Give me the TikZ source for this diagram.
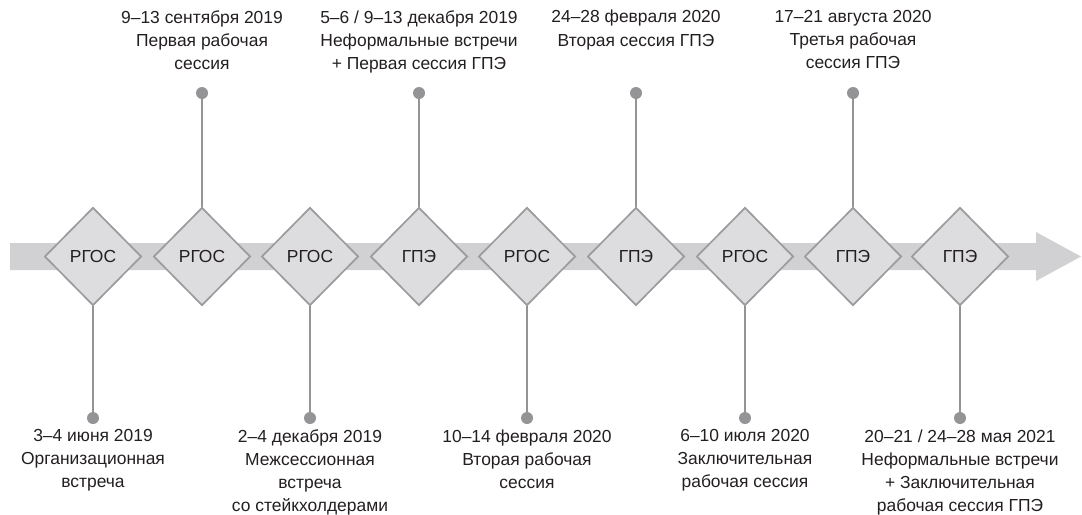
\documentclass[tikz,border=0pt]{standalone}
\usepackage{fontspec}
\setmainfont{Liberation Sans}
\usepackage{xcolor}
\definecolor{bandgrey}{RGB}{209, 209, 211}
\definecolor{diamondfill}{RGB}{221, 221, 223}
\definecolor{diamondedge}{RGB}{155, 155, 157}
\definecolor{stemgrey}{RGB}{148, 148, 150}
\definecolor{textdark}{RGB}{35, 31, 32}
\usepackage{tikz}
\usetikzlibrary{positioning, shapes.geometric}

\begin{document}
\begin{tikzpicture}[x=0.025cm, y=-0.025cm,
    every node/.style={font=\fontsize{12.4}{16.5}\selectfont, text=textdark},
    milestone/.style={diamond, draw=diamondedge, fill=diamondfill, line width=1.2pt, inner sep=0pt, minimum width=2.42cm, minimum height=2.45cm},
    pindot/.style={circle, fill=stemgrey, inner sep=0pt, minimum size=0.3cm},
    stem/.style={stemgrey, line width=1.3pt},
    eventlabel/.style={align=center, inner sep=0pt}]
    \useasboundingbox (0,0) rectangle (1082,514);

    \fill[bandgrey] (10,243) -- (1036,243) -- (1036,232) -- (1081,256.5) -- (1036,281) -- (1036,270) -- (10,270) -- cycle;

    \foreach \x/\kind [count=\i] in {93/РГОС, 202/РГОС, 310/РГОС, 419/ГПЭ, 527/РГОС, 636/ГПЭ, 745/РГОС, 853/ГПЭ, 960/ГПЭ}
        \node[milestone] (d\i) at (\x,256.5) {\kind};

    \foreach \i in {2,4,6,8} {
        \node[pindot] (p\i) at (d\i |- 0,93) {};
        \draw[stem] (p\i) -- (d\i);
    }
    \foreach \i in {1,3,5,7,9} {
        \node[pindot] (p\i) at (d\i |- 0,418) {};
        \draw[stem] (p\i) -- (d\i);
    }

    \node[eventlabel, anchor=north] (t2) at (p2 |- 0,10) {9–13 сентября 2019\\Первая рабочая\\сессия};
    \node[eventlabel, anchor=north] (t4) at (p4 |- 0,10) {5–6 / 9–13 декабря 2019\\Неформальные встречи\\+ Первая сессия ГПЭ};
    \node[eventlabel, anchor=north] (t6) at (p6 |- 0,10) {24–28 февраля 2020\\Вторая сессия ГПЭ};
    \node[eventlabel, anchor=north] (t8) at (p8 |- 0,10) {17–21 августа 2020\\Третья рабочая\\сессия ГПЭ};

    \node[eventlabel, below=0.12cm of p1] (t1) {3–4 июня 2019\\Организационная\\встреча};
    \node[eventlabel, below=0.12cm of p3] (t3) {2–4 декабря 2019\\Межсессионная\\встреча\\со стейкхолдерами};
    \node[eventlabel, below=0.12cm of p5] (t5) {10–14 февраля 2020\\Вторая рабочая\\сессия};
    \node[eventlabel, below=0.12cm of p7] (t7) {6–10 июля 2020\\Заключительная\\рабочая сессия};
    \node[eventlabel, below=0.12cm of p9] (t9) {20–21 / 24–28 мая 2021\\Неформальные встречи\\+ Заключительная\\рабочая сессия ГПЭ};
\end{tikzpicture}
\end{document}
